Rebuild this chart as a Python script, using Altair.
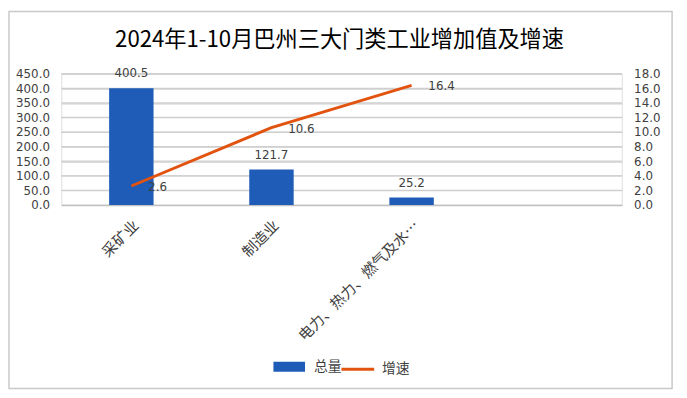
import altair as alt
import pandas as pd

# ---- data ----
categories = ["采矿业", "制造业", "电力、热力、燃气及水生产和供应业"]
totals = [400.5, 121.7, 25.2]
growth = [2.6, 10.6, 16.4]
x_domain = categories + [" "]          # Excel reserves a fourth, empty slot
left_ticks = [0, 50, 100, 150, 200, 250, 300, 350, 400, 450]
right_ticks = [0, 2, 4, 6, 8, 10, 12, 14, 16, 18]
title_text = ["2024年1-10月巴州三大门类工业增加值及增速"]

BLUE = "#1f5cb8"
ORANGE = "#e2530f"
GRID = "#cfcfcf"
NUM_FONT = "DejaVu Sans"
CJK_FONT = "Noto Sans CJK SC"

df = pd.DataFrame({
    "cat": categories,
    "total": totals,
    "growth": growth,
    "s1": ["总量"] * 3,
    "s2": ["增速"] * 3,
})
grid_df = pd.DataFrame({"total": left_ticks[1:]})

x_enc = alt.X(
    "cat:N",
    sort=None,
    scale=alt.Scale(domain=x_domain, paddingInner=0.683, paddingOuter=0.3415),
    axis=alt.Axis(
        title=None, labelAngle=-45, labelAlign="right", labelBaseline="top",
        labelFont=CJK_FONT, labelFontSize=15, labelColor="#404040",
        labelLimit=170, labelPadding=13, ticks=False,
        domainColor="#c0c0c0", domainWidth=1.5,
    ),
)

y_left = alt.Y(
    "total:Q",
    scale=alt.Scale(domain=[0, 450]),
    axis=alt.Axis(
        title=None, values=left_ticks, format=".1f", grid=True,
        gridColor=GRID, gridWidth=1.3, ticks=False, domain=False,
        labelPadding=12, labelFont=NUM_FONT, labelFontSize=12, labelColor="#404040",
    ),
)

y_right = alt.Y(
    "growth:Q",
    scale=alt.Scale(domain=[0, 18]),
    axis=alt.Axis(
        title=None, orient="right", values=right_ticks, format=".1f", grid=False,
        ticks=False, domain=False, labelPadding=12,
        labelFont=NUM_FONT, labelFontSize=12, labelColor="#404040",
    ),
)

base = alt.Chart(df)

grid = alt.Chart(grid_df).mark_tick(
    orient="horizontal", size=568, thickness=1.3, color=GRID, opacity=1
).encode(y=y_left)

bars = base.mark_bar().encode(
    x=x_enc,
    y=y_left,
    fill=alt.Fill(
        "s1:N",
        scale=alt.Scale(domain=["总量"], range=[BLUE]),
        legend=alt.Legend(
            title=None, orient="none", legendX=215, legendY=281,
            symbolType="M-1,-0.3125H1V0.3125H-1Z", symbolSize=1024,
            symbolStrokeWidth=0, labelFont=CJK_FONT, labelFontSize=14,
            labelColor="#404040", labelOffset=9,
        ),
    ),
)

bar_text = base.mark_text(
    baseline="bottom", dy=-8, font=NUM_FONT, fontSize=12, color="#404040"
).encode(x=x_enc, y=y_left, text=alt.Text("total:Q", format=".1f"))

line = base.mark_line(strokeWidth=3).encode(
    x=x_enc,
    y=y_right,
    stroke=alt.Stroke(
        "s2:N",
        scale=alt.Scale(domain=["增速"], range=[ORANGE]),
        legend=alt.Legend(
            title=None, orient="none", legendX=282, legendY=281,
            symbolType="stroke", symbolSize=1100, symbolStrokeWidth=3,
            labelFont=CJK_FONT, labelFontSize=14, labelColor="#404040",
            labelOffset=6,
        ),
    ),
)

line_text = base.mark_text(
    align="left", baseline="middle", dx=17, dy=1,
    font=NUM_FONT, fontSize=12, color="#404040",
).encode(x=x_enc, y=y_right, text=alt.Text("growth:Q", format=".1f"))

deco = alt.Chart(pd.DataFrame({"t": title_text}))

border = deco.mark_rect(
    filled=False, stroke="#c8c8c8", strokeWidth=1.5
).encode(
    x=alt.value(-53), x2=alt.value(619), y=alt.value(-63), y2=alt.value(319)
)

title = deco.mark_text(
    font=CJK_FONT, fontSize=22.5, color="#000000", align="center", baseline="middle"
).encode(x=alt.value(282), y=alt.value(-34), text="t:N")

chart = alt.layer(
    alt.layer(grid, bars, bar_text),
    alt.layer(line, line_text),
    border,
    title,
).resolve_scale(y="independent").properties(
    width=568,
    height=133,
    autosize=alt.AutoSizeParams(type="none"),
    padding={"left": 54, "top": 64, "right": 58, "bottom": 190},
).configure_view(stroke=None).configure(background="white")

chart.save("out.html", embed_options={"renderer": "svg", "actions": False})
